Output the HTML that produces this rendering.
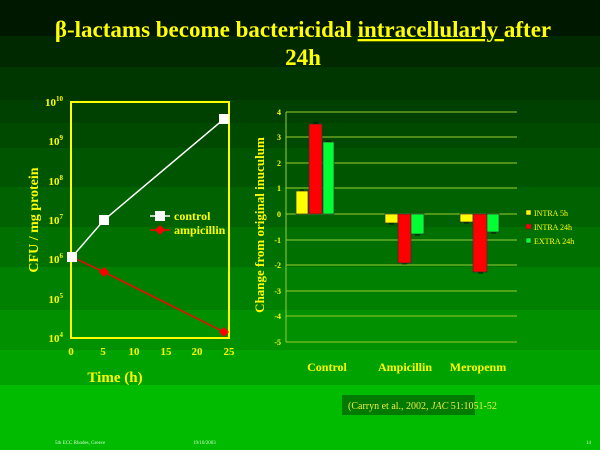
<!DOCTYPE html>
<html><head><style>
body{margin:0;width:600px;height:450px;overflow:hidden;font-family:"Liberation Serif",serif}
</style></head><body>
<svg width="600" height="450" xmlns="http://www.w3.org/2000/svg" font-family="Liberation Serif, serif">
<rect x="0" y="0" width="600" height="450" fill="#00bb00"/>
<rect x="0" y="0" width="600" height="36" fill="#001800"/>
<rect x="0" y="36" width="600" height="31" fill="#002900"/>
<rect x="0" y="67" width="600" height="33" fill="#003600"/>
<rect x="0" y="100" width="600" height="23" fill="#004000"/>
<rect x="0" y="123" width="600" height="25" fill="#004a00"/>
<rect x="0" y="148" width="600" height="39" fill="#005500"/>
<rect x="0" y="187" width="600" height="40" fill="#006200"/>
<rect x="0" y="227" width="600" height="40" fill="#007000"/>
<rect x="0" y="267" width="600" height="43" fill="#008000"/>
<rect x="0" y="310" width="600" height="40" fill="#009000"/>
<rect x="0" y="350" width="600" height="35" fill="#00a200"/>

<g fill="#ffff00" font-weight="bold" font-size="23" text-anchor="middle">
<text x="303" y="37">β-lactams become bactericidal <tspan text-decoration="underline">intracellularly </tspan>after</text>
<text x="303" y="65">24h</text>
</g>

<!-- left chart -->
<rect x="71" y="102" width="158" height="236" fill="none" stroke="#ffff00" stroke-width="2"/>
<g fill="#ffff00" font-weight="bold" font-size="11" text-anchor="end">
<text x="63" y="106">10<tspan font-size="7" dy="-5">10</tspan></text>
<text x="63" y="145">10<tspan font-size="7" dy="-5">9</tspan></text>
<text x="63" y="185">10<tspan font-size="7" dy="-5">8</tspan></text>
<text x="63" y="224">10<tspan font-size="7" dy="-5">7</tspan></text>
<text x="63" y="263">10<tspan font-size="7" dy="-5">6</tspan></text>
<text x="63" y="303">10<tspan font-size="7" dy="-5">5</tspan></text>
<text x="63" y="342">10<tspan font-size="7" dy="-5">4</tspan></text>
</g>
<g fill="#ffff00" font-weight="bold" font-size="11" text-anchor="middle">
<text x="71" y="355">0</text><text x="103" y="355">5</text><text x="134" y="355">10</text><text x="166" y="355">15</text><text x="197" y="355">20</text><text x="229" y="355">25</text>
<text x="115" y="382" font-size="15">Time (h)</text>
<text transform="translate(38,220) rotate(-90)" font-size="14">CFU / mg protein</text>
</g>
<polyline points="72,257 104,220 224,119" fill="none" stroke="#ffffff" stroke-width="1.5"/>
<polyline points="72,257 104,272 224,332" fill="none" stroke="#ff0000" stroke-width="1.5"/>
<g fill="#ffffff"><rect x="67" y="252" width="10" height="10"/><rect x="99" y="215" width="10" height="10"/><rect x="219" y="114" width="10" height="10"/></g>
<g fill="#ff0000"><path d="M104,267 l5,5 -5,5 -5,-5z"/><path d="M224,327 l5,5 -5,5 -5,-5z"/></g>
<line x1="150" y1="216" x2="170" y2="216" stroke="#fff" stroke-width="1.5"/><rect x="155" y="211" width="10" height="10" fill="#fff"/>
<line x1="150" y1="230" x2="170" y2="230" stroke="#f00" stroke-width="1.5"/><path d="M160,225 l5,5 -5,5 -5,-5z" fill="#f00"/>
<g fill="#ffff00" font-weight="bold" font-size="12"><text x="174" y="220">control</text><text x="174" y="234">ampicillin</text></g>

<!-- right chart -->
<g stroke="#9acd32" stroke-width="1">
<line x1="286" y1="112" x2="517" y2="112"/><line x1="286" y1="137" x2="517" y2="137"/>
<line x1="286" y1="163" x2="517" y2="163"/><line x1="286" y1="188" x2="517" y2="188"/>
<line x1="286" y1="214" x2="517" y2="214"/><line x1="286" y1="240" x2="517" y2="240"/>
<line x1="286" y1="265" x2="517" y2="265"/><line x1="286" y1="291" x2="517" y2="291"/>
<line x1="286" y1="316" x2="517" y2="316"/><line x1="286" y1="342" x2="517" y2="342"/>
<line x1="286" y1="112" x2="286" y2="342"/>
</g>
<g fill="#ffff00" font-weight="bold" font-size="8" text-anchor="end">
<text x="281" y="115">4</text><text x="281" y="140">3</text><text x="281" y="166">2</text><text x="281" y="191">1</text><text x="281" y="217">0</text>
<text x="281" y="243">-1</text><text x="281" y="268">-2</text><text x="281" y="294">-3</text><text x="281" y="319">-4</text><text x="281" y="345">-5</text>
</g>
<g stroke="#333" stroke-width="0.7">
<rect x="296" y="191" width="12" height="23" fill="#ffff00"/>
<rect x="309" y="124" width="13" height="90" fill="#ff0000"/>
<rect x="323" y="142" width="11" height="72" fill="#00ff33"/>
<rect x="385" y="214" width="13" height="9" fill="#ffff00"/>
<rect x="398" y="214" width="13" height="49" fill="#ff0000"/>
<rect x="411" y="214" width="13" height="20" fill="#00ff33"/>
<rect x="460" y="214" width="13" height="8" fill="#ffff00"/>
<rect x="473" y="214" width="14" height="58" fill="#ff0000"/>
<rect x="487" y="214" width="12" height="18" fill="#00ff33"/>
</g>
<g stroke="#000" stroke-width="0.8">
<path d="M300,190h4M313,123h5M326,141h5M389,224h5M402,264h5M415,235h5M464,223h5M478,273h5M491,233h5"/>
</g>
<g fill="#ffff00" font-weight="bold" font-size="12" text-anchor="middle">
<text x="327" y="371">Control</text><text x="405" y="371">Ampicillin</text><text x="478" y="371">Meropenm</text>
<text transform="translate(264,225) rotate(-90)" font-size="13">Change from original inuculum</text>
</g>
<g stroke="#333" stroke-width="0.5"><rect x="526" y="210" width="5" height="5" fill="#ff0"/><rect x="526" y="224" width="5" height="5" fill="#f00"/><rect x="526" y="238" width="5" height="5" fill="#0f3"/></g>
<g fill="#ffff00" font-size="8"><text x="534" y="216">INTRA 5h</text><text x="534" y="230">INTRA 24h</text><text x="534" y="244">EXTRA 24h</text></g>

<rect x="342" y="395" width="133" height="20" fill="#007a00"/>
<text x="348" y="409" fill="#eeee44" font-size="10">(Carryn et al., 2002, <tspan font-style="italic">JAC</tspan> 51:1051-52</text>
<g fill="#ccffcc" font-size="5"><text x="55" y="444">5th ECC Rhodes, Greece</text><text x="193" y="444">19/10/2003</text><text x="586" y="444">14</text></g>
</svg>
</body></html>
